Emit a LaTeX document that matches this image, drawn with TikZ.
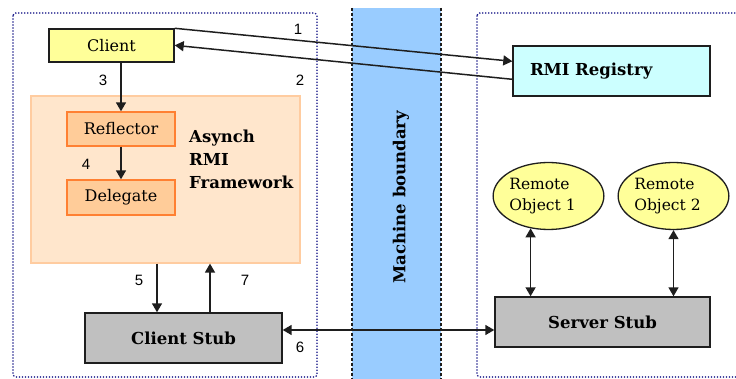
\documentclass[tikz,border=0pt]{standalone}
\usepackage{fontspec}
\setmainfont{DejaVu Serif}
\newfontfamily\numfont{Liberation Sans}
\usetikzlibrary{arrows.meta,shapes.geometric}
\definecolor{dotblue}{RGB}{30,30,140}
\definecolor{bandblue}{RGB}{153,204,255}
\definecolor{clientyel}{RGB}{255,255,153}
\definecolor{fwfill}{RGB}{255,230,204}
\definecolor{fwdraw}{RGB}{255,204,160}
\definecolor{refill}{RGB}{255,204,153}
\definecolor{redraw}{RGB}{255,128,50}
\definecolor{regfill}{RGB}{204,255,255}
\definecolor{stubfill}{RGB}{192,192,192}
\definecolor{edge}{RGB}{30,30,30}
\tikzset{
  dotbox/.style={draw=dotblue, line width=1.8pt, dash pattern=on 0pt off 3pt, line cap=round, rounded corners=3pt},
  plainbox/.style={draw=edge, line width=1.4pt, inner sep=0pt},
  regular/.style={font=\fontsize{16}{19}\selectfont},
  boldtext/.style={font=\fontsize{16.5}{20}\selectfont\bfseries},
  num/.style={font=\fontsize{15}{17}\selectfont\numfont, inner sep=0pt},
  arr/.style={draw=edge, line width=1.5pt, -{Triangle[length=9pt,width=10pt]}},
  dbl/.style={draw=edge, line width=1.5pt, {Triangle[length=9pt,width=10pt]}-{Triangle[length=9pt,width=10pt]}},
  remote/.style={ellipse, draw=edge, line width=1.3pt, fill=clientyel, minimum width=109pt, minimum height=67pt, inner sep=0pt, align=left, font=\fontsize{15.5}{21}\selectfont},
}
\begin{document}
\begin{tikzpicture}[x=1pt,y=-1pt]
\useasboundingbox (0,0) rectangle (736,379);
\clip (0,0) rectangle (736,379);
% machine boundary band
\fill[bandblue] (352,8) rectangle (441,382);
\draw[edge, line width=1.2pt, dash pattern=on 3pt off 2pt] (352,8) -- (352,382);
\draw[edge, line width=1.2pt, dash pattern=on 3pt off 2pt] (441,8) -- (441,382);
\node[boldtext, rotate=90, inner sep=0pt] (mb) at (401,197) {Machine boundary};
% dotted containers
\draw[dotbox] (13,13) rectangle (317,377);
\draw[dotbox] (477,13) rectangle (760,377);
% framework
\node[draw=fwdraw, fill=fwfill, line width=1.2pt, minimum width=269pt, minimum height=167pt, inner sep=0pt] (fw) at (165.5,179.5) {};
\node[boldtext, align=left, anchor=north west, inner sep=0pt] (fwl) at (189,130) {Asynch\\[3pt]RMI\\[3pt]Framework};
% nodes
\node[plainbox, fill=clientyel, regular, minimum width=125pt, minimum height=33pt] (client) at (111.5,45.5) {Client};
\node[draw=redraw, fill=refill, line width=1.4pt, inner sep=0pt, regular, minimum width=108pt, minimum height=34pt] (refl) at (121,129) {Reflector};
\node[draw=redraw, fill=refill, line width=1.4pt, inner sep=0pt, regular, minimum width=108pt, minimum height=35pt] (deleg) at (121,197.5) {Delegate};
\node[plainbox, fill=regfill, boldtext, minimum width=197pt, minimum height=50pt, text width=163pt, align=left] (reg) at (611.5,71) {RMI Registry};
\node[plainbox, fill=stubfill, boldtext, minimum width=197pt, minimum height=50pt] (cstub) at (183.5,338) {Client Stub};
\node[plainbox, fill=stubfill, boldtext, minimum width=215pt, minimum height=50pt] (sstub) at (602.5,322) {Server Stub};
\node[remote] (o1) at (548.5,196) {Remote\\Object 1\hspace*{12pt}};
\node[remote] (o2) at (673.5,196) {Remote\\Object 2\hspace*{12pt}};
% connectors
\draw[arr] (client.north east) -- ([yshift=-16pt]reg.north west);
\draw[arr] ([yshift=-34pt]reg.north west) -- ([yshift=-17pt]client.north east);
\draw[arr] (refl.north |- client.south) -- (refl.north);
\draw[arr] (refl.south) -- (deleg.north);
\coordinate (c5) at ([xshift=-26.5pt]cstub.north);
\coordinate (c7) at ([xshift=26.5pt]cstub.north);
\draw[arr] (c5 |- fw.south) -- (c5);
\draw[arr] (c7) -- (c7 |- fw.south);
\draw[dbl] ([yshift=8pt]cstub.east) -- ([yshift=-8pt]sstub.west);
\draw[dbl] (o1.241) -- (o1.241 |- sstub.north);
\draw[dbl] (o2.south) -- (o2.south |- sstub.north);
% numbers
\node[num] (n1) at (298,29) {1};
\node[num] (n2) at (300,80) {2};
\node[num] (n3) at (103,80) {3};
\node[num] (n4) at (86,164) {4};
\node[num] (n5) at (139,280) {5};
\node[num] (n7) at (245,280) {7};
\node[num] (n6) at (300,347) {6};
\end{tikzpicture}
\end{document}
